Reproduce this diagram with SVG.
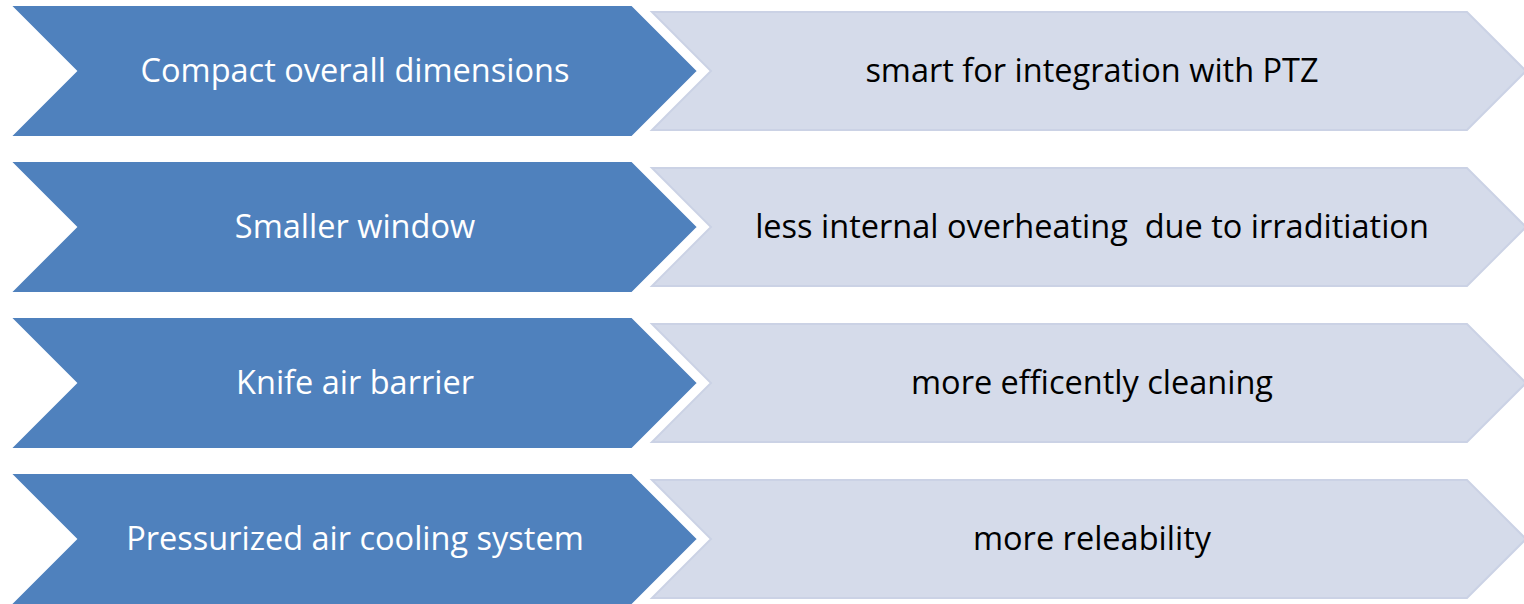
<svg xmlns="http://www.w3.org/2000/svg" width="1524" height="604" viewBox="0 0 1524 604">
<style>
.dark{fill:#4F81BD;stroke:#FFFFFF;stroke-width:2}
.light{fill:#D5DBEA;stroke:#CBD2E5;stroke-width:2}
.tw{font-family:"Open Sans","Liberation Sans",Arial,sans-serif;font-size:32.5px;fill:#FFFFFF;text-anchor:middle;white-space:pre}
.tb{font-family:"Open Sans","Liberation Sans",Arial,sans-serif;font-size:32.5px;fill:#000000;text-anchor:middle;white-space:pre}
</style>
<defs>
<polygon id="dk" points="10,0 632,0 698,66 632,132 10,132 76,66"/>
<polygon id="lt" points="652,0 1467,0 1526,59 1467,118 652,118 711,59"/>
</defs>
<rect width="1524" height="604" fill="#FFFFFF"/>
<g id="row1">
<use href="#lt" class="light" y="12"/>
<use href="#dk" class="dark" y="5"/>
<text class="tw" x="355" y="82">Compact overall dimensions</text>
<text class="tb" x="1092" y="82">smart for integration with PTZ</text>
</g>
<g id="row2">
<use href="#lt" class="light" y="168"/>
<use href="#dk" class="dark" y="161"/>
<text class="tw" x="355" y="238">Smaller window</text>
<text class="tb" x="1092" y="238">less internal overheating  due to irraditiation</text>
</g>
<g id="row3">
<use href="#lt" class="light" y="324"/>
<use href="#dk" class="dark" y="317"/>
<text class="tw" x="355" y="394">Knife air barrier</text>
<text class="tb" x="1092" y="394">more efficently cleaning</text>
</g>
<g id="row4">
<use href="#lt" class="light" y="480"/>
<use href="#dk" class="dark" y="473"/>
<text class="tw" x="355" y="550">Pressurized air cooling system</text>
<text class="tb" x="1092" y="550">more releability</text>
</g>
</svg>
